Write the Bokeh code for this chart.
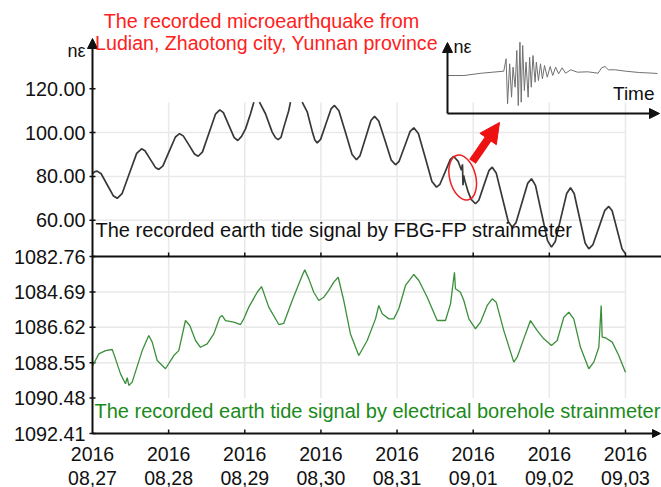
import calendar
import datetime as dt
from bokeh.plotting import figure
from bokeh.models import (Range1d, FixedTicker, PrintfTickFormatter, Arrow, NormalHead, Label)
from bokeh.embed import file_html
from bokeh.resources import INLINE

NAN = float("nan")

# ---------------- data ----------------
start_date = dt.datetime(2016, 8, 27)
tick_days = [0, 1, 2, 3, 4, 5, 6, 7]

# FBG-FP strainmeter earth tide (n-strain), time in days since 2016-08-27
# (NaN = the curve leaves the top of the recorder's plot window)
fbg_days = [0.000, 0.031, 0.062, 0.114, 0.193, 0.272, 0.324, 0.388, 0.484, 0.580,
            0.644, 0.689, 0.758, 0.826, 0.871, 0.925, 1.007, 1.089, 1.143, 1.192,
            1.266, 1.339, 1.388, 1.445, 1.530, 1.615, 1.672, 1.719, 1.790, 1.861,
            1.908, 1.958, 2.010, 2.075, 2.119, 2.156, 2.193, 2.272, 2.360, 2.405,
            2.439, 2.475, 2.513, 2.578, 2.600, 2.677, 2.754, 2.820, 2.890, 2.920,
            2.951, 2.996, 3.065, 3.133, 3.178, 3.236, 3.323, 3.409, 3.467, 3.514,
            3.586, 3.657, 3.704, 3.759, 3.842, 3.924, 3.979, 4.027, 4.100, 4.172,
            4.220, 4.280, 4.369, 4.458, 4.518, 4.563, 4.632, 4.700, 4.745, 4.800,
            4.846, 4.859, 4.866, 4.875, 4.888, 4.935, 4.973, 5.030, 5.074, 5.140,
            5.206, 5.250, 5.302, 5.381, 5.460, 5.512, 5.563, 5.639, 5.715, 5.766,
            5.818, 5.897, 5.976, 6.028, 6.078, 6.153, 6.228, 6.278, 6.326, 6.398,
            6.470, 6.518, 6.571, 6.650, 6.729, 6.781, 6.825, 6.891, 6.956, 7.000]
fbg_values = [81.3, 82.2, 82.4, 81.2, 76.2, 71.2, 70.0, 72.1, 81.3, 90.5,
              92.6, 91.7, 87.9, 84.1, 83.2, 84.8, 91.4, 98.0, 99.5, 98.5,
              94.4, 90.2, 89.2, 91.2, 99.8, 108.4, 110.4, 109.1, 103.4, 97.7,
              96.4, 98.3, 101.7, 108.6, 113.9, NAN, 113.9, 108.6, 100.2, 97.6,
              96.8, 97.8, 102.5, 110.1, 113.9, NAN, 113.9, 109.5, 100.0, 96.6,
              95.3, 96.9, 103.9, 110.8, 112.4, 110.0, 100.0, 90.0, 87.6, 89.5,
              97.5, 105.5, 107.4, 105.3, 96.4, 87.4, 85.3, 86.9, 93.8, 100.6,
              102.2, 99.6, 88.7, 77.7, 75.1, 76.4, 82.1, 87.8, 89.1, 87.0,
              82.8, 85.5, 76.0, 80.5, 78.3, 72.8, 69.5, 67.5, 69.1, 75.9,
              82.6, 84.2, 81.6, 70.5, 59.4, 56.8, 58.9, 67.9, 76.8, 78.9,
              75.9, 63.3, 50.7, 47.7, 50.3, 61.3, 72.2, 74.8, 72.2, 60.9,
              49.6, 46.9, 48.7, 56.6, 64.5, 66.3, 64.3, 55.5, 46.8, 44.7]

# electrical borehole strainmeter earth tide (inverted axis)
bh_days = [0.004, 0.083, 0.171, 0.259, 0.280, 0.368, 0.433, 0.456, 0.477, 0.521,
           0.653, 0.739, 0.784, 0.850, 0.959, 1.068, 1.133, 1.221, 1.278, 1.353,
           1.418, 1.506, 1.593, 1.672, 1.703, 1.747, 1.856, 1.944, 1.987, 2.053,
           2.163, 2.220, 2.315, 2.447, 2.512, 2.623, 2.754, 2.788, 2.841, 2.906,
           2.972, 3.038, 3.103, 3.169, 3.227, 3.300, 3.388, 3.497, 3.608, 3.717,
           3.760, 3.805, 3.892, 3.957, 4.023, 4.111, 4.220, 4.286, 4.396, 4.527,
           4.636, 4.702, 4.724, 4.754, 4.767, 4.833, 4.877, 4.943, 5.030, 5.096,
           5.184, 5.250, 5.302, 5.402, 5.533, 5.578, 5.687, 5.752, 5.841, 5.927,
           6.028, 6.103, 6.190, 6.256, 6.321, 6.409, 6.518, 6.584, 6.650, 6.681,
           6.694, 6.737, 6.826, 6.912, 7.000]
bh_values = [1088.70, 1088.07, 1087.89, 1087.83, 1088.07, 1089.16, 1089.70, 1089.36, 1089.79, 1089.61,
             1087.89, 1087.07, 1087.43, 1088.43, 1088.88, 1088.16, 1087.89, 1086.25, 1086.52, 1087.34,
             1087.71, 1087.52, 1086.98, 1086.07, 1085.98, 1086.25, 1086.34, 1086.47, 1086.16, 1085.52,
             1084.71, 1084.40, 1085.52, 1086.47, 1086.40, 1085.16, 1083.80, 1083.49, 1083.98, 1084.71,
             1085.16, 1084.98, 1084.61, 1084.16, 1083.89, 1085.16, 1086.98, 1088.16, 1087.34, 1086.16,
             1085.43, 1085.88, 1086.16, 1086.16, 1085.61, 1084.34, 1083.74, 1084.07, 1084.98, 1086.25,
             1086.25, 1085.34, 1084.61, 1083.62, 1084.52, 1084.71, 1085.16, 1086.16, 1086.70, 1086.34,
             1085.43, 1085.07, 1085.25, 1086.80, 1088.52, 1088.25, 1086.98, 1086.25, 1086.80, 1087.25,
             1087.61, 1087.34, 1086.07, 1085.80, 1086.16, 1087.71, 1088.88, 1088.52, 1087.71, 1085.43,
             1087.16, 1087.19, 1087.43, 1088.16, 1089.07]

top_ticks = [60, 80, 100, 120]
top_grid = [60, 80, 100]
bottom_ticks = [1082.76, 1084.69, 1086.62, 1088.55, 1090.48, 1092.41]
bottom_grid = [1084.69, 1086.62, 1088.55]

quake_day = 4.862
quake_value = 79.5

# inset: recorded microearthquake waveform (arbitrary time / amplitude units)
inset_t = [0, 7.8, 16.2, 26.8, 27.9, 28.6, 29.6, 30.5, 31.2, 32.2, 33.0,
           33.7, 34.5, 35.1, 35.8, 36.6, 37.4, 38.4, 39.1, 39.9, 40.7,
           41.7, 42.3, 43.3, 44.3, 45.2, 46.2, 47.5, 48.9, 50.1, 51.5,
           52.9, 54.6, 56.2, 58.7, 61.9, 66.8, 71.7, 73.4, 75.0, 76.6,
           79.9, 84.8, 91.3, 97.9, 100.0]
inset_amp = [0, 0, 0.23, 0.43, 1.67, -2.83, 1.17, -2.17, 0.83, -1.17, 2.5,
             -3.0, 3.33, -2.67, 3.0, -1.5, 1.33, -2.17, 1.83, -1.17, 2.0,
             -0.67, 1.33, -0.5, 1.17, -0.33, 1.0, -0.17, 0.9, 0, 0.83,
             0.17, 0.77, 0.23, 0.57, 0.33, 0.37, 0.23, 0.77, 0.9, 0.57,
             0.57, 0.43, 0.3, 0.23, 0.2]

# ---------------- layout (page pixels; Bokeh's page has no body margin) ----------------
W, H = 661, 487
AXIS_X = 92                     # page x of the drawn vertical axis (= 2016-08-27 00:00)
AXIS_Y = 433                    # page y of the drawn time axis
FRAME_L, FRAME_R = 62, 661
FRAME_T, FRAME_B = 0, 487
LABEL_RIGHT = 85                # right edge of the left tick labels
PX_PER_DAY = 76.14
DAY_MS = 86400000.0
T0_MS = calendar.timegm(start_date.timetuple()) * 1000.0


def lin(v1, p1, v2, p2):
    k = (v2 - v1) / (p2 - p1)
    return lambda q: v1 + (q - p1) * k


def px2ms(px):
    return T0_MS + (px - AXIS_X) / PX_PER_DAY * DAY_MS


def day2ms(d):
    return T0_MS + d * DAY_MS


bot_at = lin(1082.76, 256, 1092.41, AXIS_Y)     # bottom-panel value at page y
top_at = lin(90.0, 154, 100.0, 154 - 21.9)      # top-panel value at page y
top_page = lin(154, 90.0, 154 - 21.9, 100.0)    # page y of a top-panel value
ins_x_at = lin(0.0, 447, 100.0, 657)
ins_y_at = lin(0.0, 75, 1.0, 65)

x_range = Range1d(start=px2ms(FRAME_L), end=px2ms(FRAME_R))
y_range = Range1d(start=bot_at(FRAME_B), end=bot_at(FRAME_T))

p = figure(width=W, height=H, x_axis_type="datetime", x_range=x_range, y_range=y_range,
           output_backend="svg", toolbar_location=None,
           min_border_left=FRAME_L, min_border_right=W - FRAME_R, min_border_top=FRAME_T,
           min_border_bottom=H - FRAME_B,
           background_fill_color="white", border_fill_color="white")
p.outline_line_color = None
p.grid.visible = False
p.xaxis.visible = False
p.extra_y_ranges = {"top": Range1d(start=top_at(FRAME_B), end=top_at(FRAME_T)),
                    "ins_y": Range1d(start=ins_y_at(FRAME_B), end=ins_y_at(FRAME_T))}
p.extra_x_ranges = {"ins_x": Range1d(start=ins_x_at(FRAME_L), end=ins_x_at(FRAME_R))}

FONT = "Liberation Sans"
INK = "#111111"
GRID = "#e9e9e9"

tick_dates = [start_date + dt.timedelta(days=d) for d in tick_days]
tick_ms = [day2ms(d) for d in tick_days]
y_axis_val = bottom_ticks[-1]          # the time axis sits at the last bottom-panel tick

# ---- y axis labels: bottom-panel values + top-panel values on the same left edge ----
mapped_top = {round(bot_at(top_page(v)), 6): "%.2f" % v for v in top_ticks}
left_ticks = bottom_ticks + list(mapped_top.keys())
ya = p.yaxis[0]
ya.ticker = FixedTicker(ticks=left_ticks)
ya.formatter = PrintfTickFormatter(format="%.2f")
ya.major_label_overrides = mapped_top
ya.axis_line_color = None
ya.major_tick_line_color = None
ya.minor_tick_line_color = None
ya.major_tick_in = 0
ya.major_tick_out = 0
ya.major_label_text_font = FONT
ya.major_label_text_font_size = "19.8px"
ya.major_label_text_color = INK
ya.major_label_standoff = FRAME_L - LABEL_RIGHT

# ---- grid ----
grid_x = tick_ms[1:]
p.segment(x0=grid_x, y0=[bot_at(102)] * len(grid_x), x1=grid_x, y1=[1090.48] * len(grid_x),
          line_color=GRID, line_width=1.5)
p.segment(x0=[tick_ms[0]] * len(top_grid), y0=top_grid, x1=[tick_ms[-1]] * len(top_grid), y1=top_grid,
          line_color=GRID, line_width=1.5, y_range_name="top")
p.segment(x0=[tick_ms[0]] * len(bottom_grid), y0=bottom_grid, x1=[tick_ms[-1]] * len(bottom_grid),
          y1=bottom_grid, line_color=GRID, line_width=1.5)

# ---- left axis tick marks (drawn at the vertical axis) ----
p.segment(x0=[px2ms(AXIS_X - 3)] * len(left_ticks), y0=left_ticks,
          x1=[px2ms(AXIS_X + 3)] * len(left_ticks), y1=left_ticks,
          line_color=INK, line_width=1.5)

# ---- panel divider (time axis of the upper panel) + time axis of the lower panel ----
p.segment(x0=[tick_ms[0]], y0=[bottom_ticks[0]], x1=[px2ms(FRAME_R)], y1=[bottom_ticks[0]],
          line_color=INK, line_width=2)
p.segment(x0=grid_x, y0=[bottom_ticks[0]] * len(grid_x), x1=grid_x, y1=[bot_at(252)] * len(grid_x),
          line_color=INK, line_width=1.5)
p.segment(x0=grid_x, y0=[y_axis_val] * len(grid_x), x1=grid_x, y1=[bot_at(AXIS_Y - 4)] * len(grid_x),
          line_color=INK, line_width=1.5)

# ---- series ----
fbg_x = [start_date + dt.timedelta(days=d) for d in fbg_days]
bh_x = [start_date + dt.timedelta(days=d) for d in bh_days]
p.line(fbg_x, fbg_values, y_range_name="top", line_color="#383838", line_width=1.7)
p.line(bh_x, bh_values, line_color="#3b8f3b", line_width=1.3)

# ---- main axis arrows ----
p.add_layout(Arrow(x_start=tick_ms[0], y_start=y_axis_val, x_end=tick_ms[0], y_end=bot_at(38),
                   line_color=INK, line_width=2,
                   end=NormalHead(size=10, fill_color=INK, line_color=INK)))
p.add_layout(Arrow(x_start=tick_ms[0], y_start=y_axis_val, x_end=px2ms(660), y_end=y_axis_val,
                   line_color=INK, line_width=2,
                   end=NormalHead(size=8, fill_color=INK, line_color=INK)))

# ---- inset ----
p.add_layout(Arrow(x_start=px2ms(447), y_start=bot_at(113), x_end=px2ms(447), y_end=bot_at(42),
                   line_color=INK, line_width=2,
                   end=NormalHead(size=10, fill_color=INK, line_color=INK)))
p.add_layout(Arrow(x_start=px2ms(447), y_start=bot_at(113), x_end=px2ms(659), y_end=bot_at(113),
                   line_color=INK, line_width=2,
                   end=NormalHead(size=10, fill_color=INK, line_color=INK)))
p.line(inset_t, inset_amp, x_range_name="ins_x", y_range_name="ins_y", line_color="#707070", line_width=1)

# ---- earthquake marker and pointer ----
p.ellipse(x=[day2ms(quake_day)], y=[quake_value], width=26, height=46,
          width_units="screen", height_units="screen", angle=0.25,
          fill_color=None, line_color="#ee2222", line_width=1.5, y_range_name="top")
p.add_layout(Arrow(x_start=px2ms(472), y_start=bot_at(161), x_end=px2ms(499), y_end=bot_at(122),
                   line_color="#ee1111", line_width=8,
                   end=NormalHead(size=20, fill_color="#ee1111", line_color="#ee1111")))


# ---- texts ----
def label(text, px, py, size, color, align="left"):
    p.add_layout(Label(x=px2ms(px), y=bot_at(py), text=text, text_font=FONT, text_font_size=size,
                       text_color=color, text_align=align, text_baseline="middle"))


# two-line date labels under each day tick (positioned on the time scale)
for d, ms in zip(tick_dates, tick_ms):
    for txt, py in ((d.strftime("%Y"), 453), (d.strftime("%m,%d"), 477)):
        p.add_layout(Label(x=ms, y=bot_at(py), text=txt, text_font=FONT, text_font_size="19.5px",
                           text_color=INK, text_align="center", text_baseline="middle"))

RED = "#ff2020"
label("The recorded microearthquake from", 261, 20, "19.8px", RED, "center")
label("Ludian, Zhaotong city, Yunnan province", 266, 42, "19.6px", RED, "center")
label("n\u03b5", 85, 50, "18px", INK, "right")
label("n\u03b5", 453, 46, "18px", INK, "left")
label("Time", 654, 93, "19px", INK, "right")
label("The recorded earth tide signal by FBG-FP strainmeter", 95, 229, "20px", INK)
label("The recorded earth tide signal by electrical borehole strainmeter", 94, 410, "20px", "#1a8a1a")

open("out.html", "w").write(file_html(p, INLINE))
